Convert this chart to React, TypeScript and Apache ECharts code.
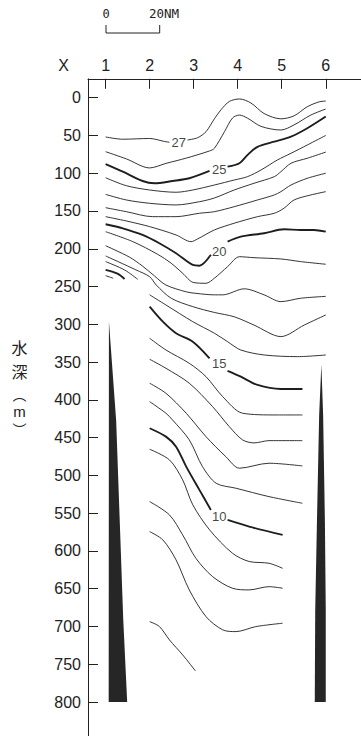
import React, { useEffect, useRef } from "react";
import * as echarts from "echarts";

// Stations along the section (x axis, top)
const stations = [1, 2, 3, 4, 5, 6];
// Depth ticks (m)
const depthTicks = [0, 50, 100, 150, 200, 250, 300, 350, 400, 450, 500, 550, 600, 650, 700, 750, 800];

// Isotherms: [station, depth(m)]
const t27a = [[1.0, 52], [1.39, 55], [2.0, 54], [2.34, 58], [2.45, 59]];
const t27b = [[2.86, 56], [3.09, 53], [3.28, 45], [3.47, 28], [3.62, 16], [3.81, 5], [4.04, 1.7], [4.3, 7], [4.6, 21], [4.98, 28], [5.28, 24], [5.58, 12], [5.85, 5.5], [6.0, 4.5]];
const t26 = [[1.0, 71.5], [1.47, 81], [2.0, 93], [2.37, 87], [2.83, 80], [3.36, 70.5], [3.47, 67], [3.7, 45], [3.88, 27], [4.04, 23], [4.22, 27], [4.53, 38], [4.98, 42.8], [5.28, 36], [5.66, 23], [6.0, 15]];
const t25a = [[1.0, 88], [1.39, 98], [1.84, 110.3], [2.11, 113.3], [2.52, 110.3], [2.9, 106.7], [3.36, 97]];
const t25b = [[3.77, 91.3], [4.04, 86.8], [4.22, 76], [4.45, 65], [4.83, 58.2], [5.21, 51.6], [5.58, 40.5], [6.0, 25]];
const t24 = [[1.0, 106], [1.47, 116.5], [2.0, 122.2], [2.6, 125.2], [2.98, 122.2], [3.47, 115.6], [3.92, 109], [4.22, 104.6], [4.53, 95.7], [4.9, 82.5], [5.21, 73.6], [5.58, 62.6], [6.0, 50]];
const t23 = [[1.0, 128], [1.47, 135.4], [2.0, 139.8], [2.6, 142], [3.13, 137.7], [3.47, 132.8], [3.92, 122.2], [4.37, 113.3], [4.83, 104.6], [4.98, 98], [5.21, 86.8], [5.58, 80.2], [6.0, 72]];
const t22 = [[1.0, 145.6], [1.47, 150.9], [2.07, 157.5], [2.6, 157.5], [3.13, 153], [3.47, 150.9], [3.92, 144.3], [4.45, 135.4], [4.83, 128.8], [4.98, 124.4], [5.21, 115.6], [5.58, 106.7], [6.0, 100]];
const t21 = [[1.0, 157.5], [1.47, 163.2], [2.0, 170.7], [2.6, 181.7], [2.94, 190.6], [3.09, 187], [3.47, 175.1], [3.92, 166.2], [4.45, 157.5], [4.83, 153], [5.05, 146.4], [5.28, 135.4], [5.66, 128.8], [6.0, 124.4]];
const t20a = [[1.0, 167.6], [1.39, 172.9], [1.84, 181.7], [2.22, 192.7], [2.6, 206], [2.98, 221.4], [3.13, 222.4], [3.39, 208]];
const t20b = [[3.77, 190.6], [4.07, 184], [4.6, 179.5], [5.05, 174.2], [5.43, 175.1], [5.73, 175.1], [6.0, 177.4]];
const t19 = [[1.0, 177.4], [1.62, 190.6], [2.18, 207.3], [2.49, 219.2], [2.75, 232.4], [2.99, 244.6], [3.28, 245.7], [3.47, 239], [3.77, 223.7], [4.04, 210.5], [4.37, 211.8], [4.98, 213.5], [5.43, 217], [6.0, 220.5]];
const t18 = [[1.0, 196], [1.54, 211], [1.84, 223], [2.11, 236], [2.37, 248], [2.83, 257], [3.05, 259], [3.47, 261], [3.66, 261], [4.15, 253], [4.6, 261], [4.98, 270], [5.43, 265.5], [6.0, 263]];
const t17 = [[1.0, 209.5], [1.69, 228], [2.0, 237], [2.15, 248], [2.49, 265.5], [2.98, 276.6], [3.47, 284.3], [3.92, 290], [4.37, 301], [4.98, 316.3], [5.51, 301], [6.0, 287.6]];
const t16a = [[1.0, 217], [1.43, 228], [1.73, 240.5]];
const t16b = [[2.0, 261], [2.37, 274.4], [2.98, 296.5], [3.47, 311.8], [3.77, 323], [4.07, 334], [4.6, 340.6], [5.36, 342.8], [6.0, 340.6]];
const t15a = [[1.0, 228], [1.27, 233], [1.43, 240]];
const t15b = [[2.0, 276.6], [2.3, 296.5], [2.6, 311.8], [2.98, 323], [3.36, 345]];
const t15c = [[3.77, 361.7], [4.07, 369.3], [4.45, 380.3], [4.98, 385.6], [5.47, 385.6]];
const t14a = [[1.0, 235.6], [1.17, 239]];
const t14b = [[2.0, 318.5], [2.37, 334], [2.9, 351.6], [3.28, 369.3], [3.66, 395.8], [4.11, 417.7], [4.87, 420], [5.47, 420]];
const t13 = [[2.0, 346.3], [2.37, 358.2], [2.9, 378], [3.43, 409], [3.81, 435.5], [4.11, 453], [4.37, 457], [4.71, 454], [5.47, 454]];
const t12 = [[2.0, 378], [2.37, 391.3], [2.83, 417.7], [3.28, 448.7], [3.73, 475.2], [4.04, 490.5], [4.71, 483.9], [5.47, 487.5]];
const t11 = [[2.0, 402.4], [2.37, 417.7], [2.52, 426.6], [2.9, 453], [3.2, 488.4], [3.51, 510.4], [3.96, 517], [4.71, 528.1], [5.47, 536.9]];
const t10a = [[2.0, 437.6], [2.37, 448.7], [2.6, 462], [2.83, 488.4], [3.13, 519.2], [3.39, 545.7]];
const t10b = [[3.77, 559], [4.26, 567.8], [5.02, 578.8]];
const t9 = [[2.0, 465.4], [2.45, 479.5], [2.75, 506], [2.98, 539], [3.36, 572], [3.88, 603], [4.26, 614], [4.71, 616.3], [5.02, 623]];
const t8 = [[2.0, 534.7], [2.45, 552.3], [2.75, 578.8], [3.05, 609.7], [3.43, 634], [3.88, 649.4], [4.26, 651.6], [4.71, 647.3], [5.02, 649.4]];
const t7 = [[2.0, 574.4], [2.3, 585.4], [2.6, 611.9], [2.9, 651.6], [3.28, 687], [3.66, 704.5], [3.96, 706.8], [4.41, 700.2], [5.02, 695.7]];
const t6 = [[2.0, 693.6], [2.22, 700], [2.45, 717.8], [2.75, 737.6], [3.04, 758.8]];

const thinSegments = [t27a, t27b, t26, t24, t23, t22, t21, t19, t18, t17, t16a, t16b, t14a, t14b, t13, t12, t11, t9, t8, t7, t6];
const boldSegments = [t25a, t25b, t20a, t20b, t15a, t15b, t15c, t10a, t10b];

// Isotherm labels [station, depth, text]
const contourLabels = [[2.66, 59.5, "27"], [3.58, 95.7, "25"], [3.58, 204, "20"], [3.58, 351.6, "15"], [3.58, 554.6, "10"]];

// Sea-bottom wedges
const leftBottom = [[1.075, 296], [1.24, 428], [1.4, 690], [1.49, 800], [1.07, 800]];
const rightBottom = [[5.9, 353], [5.94, 420], [5.98, 560], [6.0, 680], [6.0, 800], [5.75, 800], [5.76, 680], [5.8, 560], [5.85, 420]];
const wedges = [leftBottom, rightBottom];

const INK = "#222";
const FONT = "'Liberation Sans', Arial, sans-serif";
const CJK = "'Noto Sans CJK JP', sans-serif";

export default function App() {
  const ref = useRef<HTMLDivElement>(null);
  useEffect(() => {
    if (!ref.current) return;
    const chart = echarts.init(ref.current, undefined, { renderer: "svg" });
    const lineSeries = (seg: number[][], bold: boolean) => ({
      type: "line",
      data: seg,
      showSymbol: false,
      symbol: "none",
      smooth: 0.3,
      silent: true,
      z: 3,
      lineStyle: { color: "#1e1e1e", width: bold ? 1.9 : 0.9 },
    });
    const vText = (text: string, y: number, size: number, family: string) => ({
      type: "text",
      x: 19.5,
      y,
      style: { text, fontSize: size, fill: INK, fontFamily: family, align: "center", verticalAlign: "middle" },
    });
    const option: any = {
      animation: false,
      backgroundColor: "#fff",
      grid: { left: 88, top: 78.8, width: 273.7, height: 657.9, containLabel: false },
      xAxis: {
        type: "value",
        position: "top",
        min: 0.6,
        max: 6.8,
        axisLine: { show: true, onZero: false, lineStyle: { color: INK, width: 1 } },
        axisTick: { show: true, inside: true, length: 10, customValues: stations, lineStyle: { color: INK, width: 1 } },
        axisLabel: { show: true, customValues: stations, margin: 5, fontSize: 16, color: INK, fontFamily: FONT },
        splitLine: { show: false },
      },
      yAxis: {
        type: "value",
        inverse: true,
        min: -25,
        max: 845,
        axisLine: { show: true, onZero: false, lineStyle: { color: INK, width: 1 } },
        axisTick: { show: true, inside: true, length: 10, customValues: depthTicks, lineStyle: { color: INK, width: 1 } },
        axisLabel: { show: true, customValues: depthTicks, margin: 7, fontSize: 16, color: INK, fontFamily: FONT },
        splitLine: { show: false },
      },
      series: [
        {
          type: "custom",
          silent: true,
          z: 2,
          data: wedges.map((w, i) => [w[0][0], w[0][1], i]),
          renderItem: (params: any, api: any) => {
            const poly = wedges[params.dataIndex];
            return {
              type: "polygon",
              shape: { points: poly.map((p) => api.coord(p)) },
              style: { fill: "#262626" },
            };
          },
        },
        ...thinSegments.map((s) => lineSeries(s, false)),
        ...boldSegments.map((s) => lineSeries(s, true)),
        {
          type: "scatter",
          data: contourLabels,
          symbolSize: 1,
          itemStyle: { color: "rgba(0,0,0,0)" },
          silent: true,
          z: 5,
          label: {
            show: true,
            position: "inside",
            formatter: (p: any) => p.value[2],
            fontSize: 13,
            color: "#111",
            textBorderWidth: 0,
            fontFamily: "'Liberation Sans Narrow', 'Liberation Sans', sans-serif",
          },
        },
      ],
      graphic: [
        { type: "text", x: 63.7, y: 65.5, style: { text: "X", fontSize: 16, fill: INK, fontFamily: FONT, align: "center", verticalAlign: "middle" } },
        { type: "text", x: 106, y: 13.5, style: { text: "0", fontSize: 12, fill: INK, fontFamily: "'DejaVu Sans Mono', monospace", align: "center", verticalAlign: "middle" } },
        { type: "text", x: 149, y: 13.5, style: { text: "20NM", fontSize: 12.5, fill: INK, fontFamily: "'DejaVu Sans Mono', monospace", align: "left", verticalAlign: "middle" } },
        { type: "polyline", shape: { points: [[106, 25], [106, 33], [159.7, 33], [159.7, 25]] }, style: { stroke: INK, lineWidth: 1, fill: null } },
        { type: "text", x: 19.5, y: 358.75, style: { text: "水\n深", fontSize: 16, lineHeight: 23.5, fill: INK, fontFamily: CJK, align: "center", verticalAlign: "middle" } },
        vText("︵", 393.5, 14, CJK),
        vText("m", 411, 15, FONT),
        vText("︶", 428.5, 14, CJK),
      ],
    };
    chart.setOption(option);
    return () => chart.dispose();
  }, []);
  return (
    <div
      ref={ref}
      style={{ position: "absolute", left: 0, top: 0, width: 361, height: 736, background: "#fff" }}
    />
  );
}
